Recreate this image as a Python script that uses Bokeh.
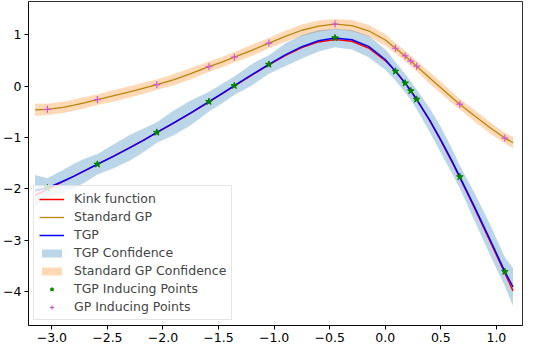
from bokeh.plotting import figure
from bokeh.models import Range1d, FixedTicker, Legend, LegendItem
from bokeh.embed import file_html
from bokeh.resources import INLINE

# shared x grid
xs = [-3.15, -3.04, -2.9, -2.8, -2.7, -2.59, -2.45, -2.3, -2.18, -2.055, -1.9, -1.75,
      -1.586, -1.47, -1.358, -1.2, -1.047, -0.9, -0.75, -0.6, -0.452, -0.3, -0.15, 0.0,
      0.092, 0.179, 0.23, 0.282, 0.4, 0.5, 0.6, 0.671, 0.8, 0.95, 1.076, 1.15]

kink_y = [-2.123, -2.008, -1.859, -1.752, -1.644, -1.523, -1.367, -1.196, -1.055, -0.905,
          -0.714, -0.523, -0.307, -0.151, 0.001, 0.216, 0.418, 0.596, 0.752, 0.863, 0.911,
          0.877, 0.744, 0.5, 0.295, 0.064, -0.088, -0.254, -0.670, -1.059, -1.474, -1.782,
          -2.360, -3.052, -3.640, -3.985]

tgp_y = [-2.03, -1.98, -1.85, -1.75, -1.64, -1.52, -1.37, -1.20, -1.06, -0.90, -0.71, -0.52,
         -0.30, -0.145, 0.01, 0.225, 0.425, 0.61, 0.77, 0.885, 0.94, 0.905, 0.775, 0.52,
         0.29, 0.06, -0.09, -0.255, -0.66, -1.045, -1.455, -1.765, -2.335, -3.02, -3.61, -3.91]

tgp_hw = [0.30, 0.19, 0.22, 0.24, 0.23, 0.20, 0.23, 0.25, 0.23, 0.20, 0.24, 0.24, 0.19, 0.19,
          0.18, 0.21, 0.18, 0.22, 0.23, 0.21, 0.18, 0.19, 0.21, 0.20, 0.18, 0.18, 0.18, 0.19,
          0.23, 0.25, 0.24, 0.22, 0.27, 0.30, 0.28, 0.37]

gp_y = [-0.46, -0.45, -0.41, -0.37, -0.32, -0.26, -0.19, -0.11, -0.04, 0.03, 0.13, 0.245,
        0.38, 0.47, 0.565, 0.70, 0.84, 0.97, 1.09, 1.17, 1.21, 1.18, 1.08, 0.90, 0.74, 0.59,
        0.49, 0.39, 0.16, -0.03, -0.22, -0.35, -0.57, -0.82, -1.01, -1.10]

gp_hw = [0.12, 0.11, 0.11, 0.11, 0.11, 0.10, 0.11, 0.11, 0.11, 0.10, 0.11, 0.11, 0.10, 0.10,
         0.10, 0.11, 0.10, 0.11, 0.11, 0.11, 0.10, 0.11, 0.11, 0.11, 0.10, 0.10, 0.10, 0.10,
         0.11, 0.11, 0.11, 0.10, 0.11, 0.11, 0.10, 0.11]

ind_x = [-3.04, -2.59, -2.055, -1.586, -1.358, -1.047, -0.452, 0.092, 0.179, 0.23, 0.282, 0.671, 1.076]
tgp_ind_y = [-1.98, -1.52, -0.90, -0.30, 0.01, 0.425, 0.94, 0.29, 0.06, -0.09, -0.255, -1.765, -3.61]
gp_ind_y = [-0.45, -0.26, 0.03, 0.38, 0.565, 0.84, 1.21, 0.74, 0.59, 0.49, 0.39, -0.35, -1.01]

x_ticks = [-3.0, -2.5, -2.0, -1.5, -1.0, -0.5, 0.0, 0.5, 1.0]
x_labels = ["\u22123.0", "\u22122.5", "\u22122.0", "\u22121.5", "\u22121.0", "\u22120.5", "0.0", "0.5", "1.0"]
y_ticks = [-4, -3, -2, -1, 0, 1]
y_labels = ["\u22124", "\u22123", "\u22122", "\u22121", "0", "1"]

tgp_lo = [m - h for m, h in zip(tgp_y, tgp_hw)]
tgp_hi = [m + h for m, h in zip(tgp_y, tgp_hw)]
gp_lo = [m - h for m, h in zip(gp_y, gp_hw)]
gp_hi = [m + h for m, h in zip(gp_y, gp_hw)]

p = figure(width=524, height=344, output_backend="svg", toolbar_location=None,
           x_range=Range1d(-3.21, 1.235), y_range=Range1d(-4.66, 1.65),
           min_border_left=2, min_border_right=2, min_border_top=1, min_border_bottom=1)
p.xgrid.visible = False
p.ygrid.visible = False
p.outline_line_color = "black"
p.outline_line_alpha = 0.8

for ax in (p.xaxis[0], p.yaxis[0]):
    ax.axis_line_color = "black"
    ax.axis_line_alpha = 0.8
    ax.major_tick_in = 0
    ax.major_tick_out = 4
    ax.minor_tick_line_color = None
    ax.major_label_text_font = "DejaVu Sans"
    ax.major_label_text_font_size = "12.5px"
    ax.major_label_text_color = "black"
    ax.major_label_standoff = 3

p.xaxis[0].ticker = FixedTicker(ticks=x_ticks)
p.xaxis[0].major_label_overrides = {t: l for t, l in zip(x_ticks, x_labels)}
p.yaxis[0].ticker = FixedTicker(ticks=y_ticks)
p.yaxis[0].major_label_overrides = {t: l for t, l in zip(y_ticks, y_labels)}

r_gpband = p.varea(x=xs, y1=gp_lo, y2=gp_hi, fill_color="#ff7f0e", fill_alpha=0.3)
r_tgpband = p.varea(x=xs, y1=tgp_lo, y2=tgp_hi, fill_color="#1f77b4", fill_alpha=0.3)
r_kink = p.line(xs, kink_y, line_color="red", line_width=1.5)
r_gp = p.line(xs, gp_y, line_color="#b8860b", line_width=1.3)
r_tgp = p.line(xs, tgp_y, line_color="blue", line_width=1.5)
r_tind = p.scatter(ind_x, tgp_ind_y, marker="star", size=7, fill_color="green",
                   line_color="green")
r_gind = p.scatter(ind_x, gp_ind_y, marker="cross", size=7, line_color="#d84fd8",
                   line_width=1.2)

legend = Legend(items=[
    LegendItem(label="Kink function", renderers=[r_kink]),
    LegendItem(label="Standard GP", renderers=[r_gp]),
    LegendItem(label="TGP", renderers=[r_tgp]),
    LegendItem(label="TGP Confidence", renderers=[r_tgpband]),
    LegendItem(label="Standard GP Confidence", renderers=[r_gpband]),
    LegendItem(label="TGP Inducing Points", renderers=[r_tind]),
    LegendItem(label="GP Inducing Points", renderers=[r_gind]),
], location="bottom_left")
legend.label_text_font = "DejaVu Sans"
legend.label_text_font_size = "12.5px"
legend.glyph_width = 25
legend.glyph_height = 10
legend.label_height = 10
legend.spacing = 3
legend.padding = 5
legend.margin = 5
legend.label_standoff = 10
legend.border_line_color = "#cccccc"
legend.background_fill_alpha = 0.8
p.add_layout(legend)

open("out.html", "w").write(file_html(p, INLINE))
